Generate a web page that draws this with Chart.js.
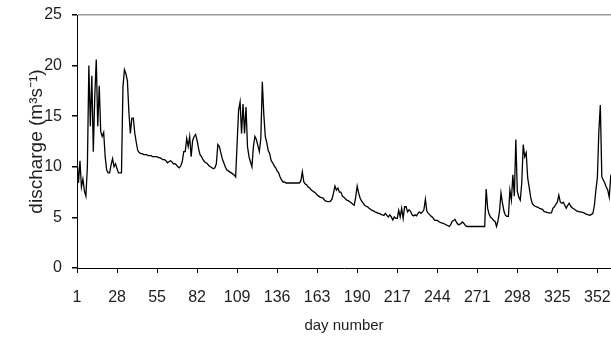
<!DOCTYPE html>
<html>
<head>
<meta charset="utf-8">
<script src="https://cdn.jsdelivr.net/npm/chart.js@4/dist/chart.umd.min.js"></script>
<style>
  html, body { margin: 0; padding: 0; background: #fff; overflow: hidden; }
  #chart { display: block; }
</style>
</head>
<body>
<canvas id="chart" width="611" height="347"></canvas>
<script>
// daily discharge, day 1 onwards
const discharge = [
  10.8, 8.4, 10.6, 8.0, 8.8, 7.6, 7.1, 10.0, 20.0, 14.0,
  19.0, 11.5, 17.0, 20.6, 14.0, 18.0, 13.5, 13.0, 13.4, 11.0,
  9.7, 9.4, 9.4, 10.2, 10.8, 10.0, 10.3, 9.8, 9.4, 9.4,
  9.4, 17.9, 19.6, 19.2, 18.5, 15.4, 13.3, 14.8, 14.8, 13.3,
  12.4, 11.6, 11.4, 11.3, 11.3, 11.2, 11.2, 11.2, 11.1, 11.1,
  11.1, 11.0, 11.0, 11.0, 11.0, 10.9, 10.9, 10.8, 10.7, 10.7,
  10.6, 10.4, 10.5, 10.6, 10.5, 10.3, 10.3, 10.2, 10.0, 9.9,
  10.1, 10.5, 11.5, 11.5, 12.8, 12.0, 13.0, 11.0, 12.6, 13.0,
  13.2, 12.6, 11.8, 11.2, 11.0, 10.7, 10.5, 10.4, 10.3, 10.1,
  10.0, 9.9, 9.8, 9.9, 10.3, 12.2, 12.0, 11.4, 10.8, 10.4,
  10.0, 9.7, 9.6, 9.5, 9.4, 9.3, 9.2, 9.0, 12.3, 15.6,
  16.4, 13.3, 16.2, 13.3, 15.9, 12.0, 11.0, 10.5, 10.0, 12.0,
  13.0, 12.7, 12.1, 11.5, 12.8, 18.4, 15.2, 13.0, 12.4, 11.6,
  11.3, 10.6, 10.4, 10.1, 9.9, 9.6, 9.4, 9.0, 8.7, 8.5,
  8.5, 8.4, 8.4, 8.4, 8.4, 8.4, 8.4, 8.4, 8.4, 8.4,
  8.4, 8.6, 9.5, 8.5, 8.3, 8.2, 8.0, 7.9, 7.7, 7.6,
  7.5, 7.4, 7.2, 7.1, 7.0, 6.95, 6.9, 6.7, 6.6, 6.55,
  6.55, 6.6, 6.8, 7.4, 8.1, 7.7, 7.9, 7.5, 7.5, 7.1,
  7.0, 6.85, 6.7, 6.65, 6.55, 6.45, 6.3, 6.2, 7.0, 8.1,
  7.4, 6.9, 6.6, 6.4, 6.2, 6.1, 6.05, 5.9, 5.8, 5.7,
  5.65, 5.55, 5.5, 5.4, 5.4, 5.3, 5.25, 5.2, 5.4, 5.2,
  5.05, 5.25, 5.05, 4.75, 5.05, 4.9, 4.9, 5.7, 5.05, 5.9,
  4.9, 6.05, 6.05, 5.55, 5.75, 5.6, 5.25, 5.15, 5.25, 5.15,
  5.4, 5.55, 5.4, 5.55, 5.75, 6.8, 5.6, 5.4, 5.25, 5.1,
  5.0, 4.75, 4.7, 4.7, 4.6, 4.5, 4.45, 4.4, 4.35, 4.25,
  4.2, 4.1, 4.25, 4.6, 4.7, 4.8, 4.5, 4.3, 4.3, 4.4,
  4.55, 4.4, 4.2, 4.1, 4.1, 4.1, 4.1, 4.1, 4.1, 4.1,
  4.1, 4.1, 4.1, 4.1, 4.1, 4.1, 7.8, 5.9, 5.3, 5.0,
  4.9, 4.7, 4.6, 4.1, 4.7, 5.6, 7.4, 6.4, 5.6, 5.2,
  5.1, 5.1, 7.7, 6.7, 9.2, 7.1, 12.7, 7.6, 7.0, 6.7,
  8.4, 12.2, 11.0, 11.4, 8.9, 8.0, 7.0, 6.4, 6.2, 6.1,
  6.05, 6.0, 5.9, 5.85, 5.8, 5.6, 5.55, 5.5, 5.45, 5.45,
  5.45, 5.9, 6.05, 6.3, 6.5, 7.2, 6.5, 6.4, 6.5, 6.2,
  5.9, 6.2, 6.4, 6.1, 5.95, 5.85, 5.75, 5.65, 5.6, 5.55,
  5.55, 5.5, 5.45, 5.35, 5.3, 5.25, 5.2, 5.3, 5.4, 6.2,
  7.7, 8.9, 13.5, 16.1, 9.0, 8.7, 8.4, 8.0, 7.7, 7.0,
  9.0, 8.6
];
const days = discharge.map((_, i) => i + 1);
const xTicks = [1, 28, 55, 82, 109, 136, 163, 190, 217, 244, 271, 298, 325, 352];
const yTicks = [0, 5, 10, 15, 20, 25];

const family = '"Liberation Sans", Arial, sans-serif';
const textColor = '#1e1e1e';

const ctx = document.getElementById('chart').getContext('2d');
const chart = new Chart(ctx, {
  type: 'line',
  data: {
    datasets: [{
      data: days.map((d, i) => ({ x: d, y: discharge[i] })),
      borderColor: '#000',
      borderWidth: 1.3,
      pointRadius: 0,
      tension: 0,
      fill: false
    }]
  },
  options: {
    responsive: false,
    animation: false,
    devicePixelRatio: 1,
    layout: { padding: { top: 15, right: 0, bottom: 0, left: 0 } },
    plugins: {
      legend: { display: false },
      tooltip: { enabled: false }
    },
    scales: {
      x: {
        type: 'linear',
        min: 1,
        max: 361.2,
        afterBuildTicks: s => { s.ticks = xTicks.map(v => ({ value: v })); },
        afterFit: s => {
          s.height = 79;
          s.paddingLeft = 0;
          s.paddingRight = 0;
        },
        ticks: {
          autoSkip: false,
          maxRotation: 0,
          padding: 15,
          color: textColor,
          font: { family, size: 16 }
        },
        grid: {
          drawOnChartArea: false,
          tickLength: 5,
          tickColor: '#000'
        },
        border: { color: '#000', width: 1 },
        title: {
          display: true,
          text: 'day number',
          color: textColor,
          font: { family, size: 15 },
          padding: { top: 0, bottom: 12 }
        }
      },
      y: {
        min: 0,
        max: 25,
        afterBuildTicks: s => { s.ticks = yTicks.map(v => ({ value: v })); },
        afterFit: s => {
          s.width = 77;
          s.paddingTop = 0;
          s.paddingBottom = 0;
        },
        ticks: {
          padding: 10,
          color: textColor,
          font: { family, size: 16 }
        },
        grid: {
          color: c => (c.tick && c.tick.value === 25 ? '#9a9a9a' : 'rgba(0,0,0,0)'),
          lineWidth: 1.5,
          tickLength: 5,
          tickColor: '#000'
        },
        border: { color: '#000', width: 1 },
        title: {
          display: true,
          text: 'discharge (m³s⁻¹)',
          color: textColor,
          font: { family, size: 19 },
          padding: { top: 25, bottom: 0 }
        }
      }
    }
  }
});
</script>
</body>
</html>
